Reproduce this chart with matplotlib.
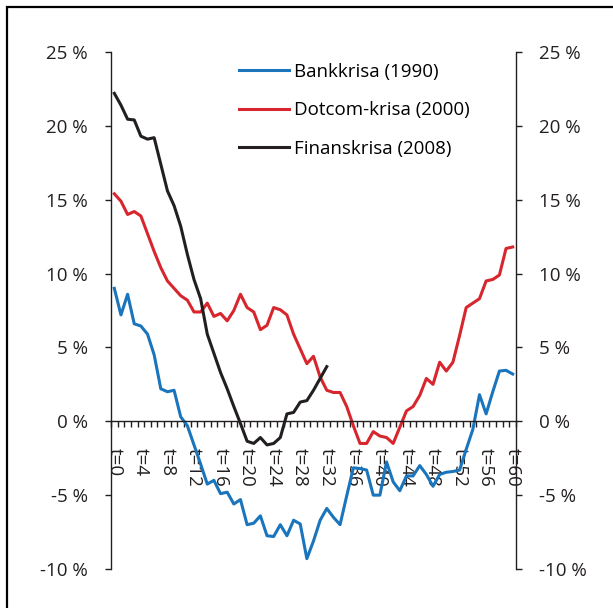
import numpy as np
import matplotlib.pyplot as plt
from matplotlib.patches import Rectangle

plt.rcParams['font.family'] = ['Open Sans', 'DejaVu Sans']

# Tidsperioder t=0..60
t = np.arange(61)

bankkrisa = [9.0, 7.2, 8.6, 6.6, 6.45, 5.9, 4.5, 2.2, 2.0, 2.1,
             0.3, -0.3, -1.6, -2.9, -4.25, -4.0, -4.9, -4.8, -5.6, -5.3,
             -7.0, -6.9, -6.4, -7.75, -7.8, -7.0, -7.75, -6.7, -6.95, -9.3,
             -8.1, -6.7, -5.9, -6.5, -7.0, -5.05, -3.15, -3.2, -3.3, -5.0,
             -5.0, -2.75, -4.1, -4.7, -3.7, -3.7, -3.0, -3.6, -4.4, -3.6,
             -3.45, -3.4, -3.3, -1.9, -0.55, 1.8, 0.5, 2.0, 3.4, 3.45, 3.2]

dotcom = [15.4, 14.9, 14.0, 14.2, 13.9, 12.7, 11.5, 10.4, 9.5, 9.0,
          8.5, 8.2, 7.4, 7.4, 8.0, 7.1, 7.3, 6.8, 7.5, 8.6,
          7.7, 7.4, 6.2, 6.5, 7.7, 7.55, 7.2, 5.9, 4.9, 3.9,
          4.4, 3.0, 2.1, 1.95, 1.95, 1.0, -0.3, -1.5, -1.5, -0.7,
          -1.0, -1.1, -1.5, -0.4, 0.7, 1.0, 1.75, 2.9, 2.5, 4.0,
          3.4, 4.0, 5.8, 7.7, 8.0, 8.3, 9.5, 9.6, 9.9, 11.7, 11.8]

finanskrisa = [22.2, 21.4, 20.45, 20.4, 19.3, 19.1, 19.2, 17.4, 15.6, 14.6,
               13.2, 11.3, 9.6, 8.3, 5.9, 4.6, 3.3, 2.2, 1.0, -0.15,
               -1.35, -1.5, -1.1, -1.6, -1.5, -1.1, 0.5, 0.6, 1.3, 1.4,
               2.1, 2.9, 3.7]

y_ticks = [-10, -5, 0, 5, 10, 15, 20, 25]

fig = plt.figure(figsize=(6.13, 6.08), dpi=100)
ax = fig.add_axes([111 / 613, 39 / 608, (516 - 111) / 613, (569 - 52) / 608])

ax.plot(t, bankkrisa, color='#1a75bc', lw=2.2, label='Bankkrisa (1990)')
ax.plot(t, dotcom, color='#d7262d', lw=2.2, label='Dotcom-krisa (2000)')
ax.plot(t[:len(finanskrisa)], finanskrisa, color='#231f20', lw=2.2,
        label='Finanskrisa (2008)')

ax.set_xlim(-0.5, 60.5)
ax.set_ylim(-10, 25)

ax.spines['top'].set_visible(False)
ax.spines['bottom'].set_position(('data', 0))
for s in ['left', 'right', 'bottom']:
    ax.spines[s].set_linewidth(1.0)
    ax.spines[s].set_color('#231f20')

ax.set_yticks(y_ticks)
ax.set_yticklabels([f'{v} %' for v in y_ticks])
ax.tick_params(axis='y', which='major', direction='out', length=4.5,
               width=1.0, labelsize=13.5, pad=12, left=True, right=True,
               labelleft=True, labelright=True, colors='#231f20')

ax.set_xticks(t[::4])
ax.set_xticklabels([f't={v}' for v in t[::4]], rotation=-90, va='top')
ax.set_xticks(np.arange(-0.5, 61, 1), minor=True)
ax.tick_params(axis='x', which='major', length=0, labelsize=13.5, pad=19,
               colors='#231f20')
ax.tick_params(axis='x', which='minor', direction='out', length=4.5, width=1.0,
               color='#231f20')

ax.legend(loc='upper left', bbox_to_anchor=(231 / 613, 1 - 55 / 608),
          bbox_transform=fig.transFigure, frameon=False, fontsize=13.5,
          handlelength=2.7, handletextpad=0.25, labelspacing=1.1,
          borderaxespad=0)

# ramme rundt figuren
fig.patches.append(Rectangle((7 / 613, -0.1), 1.2, 1 - 7 / 608 + 0.1,
                             transform=fig.transFigure, fill=False,
                             edgecolor='black', lw=1.6))

fig.savefig('out.png', dpi=100)
